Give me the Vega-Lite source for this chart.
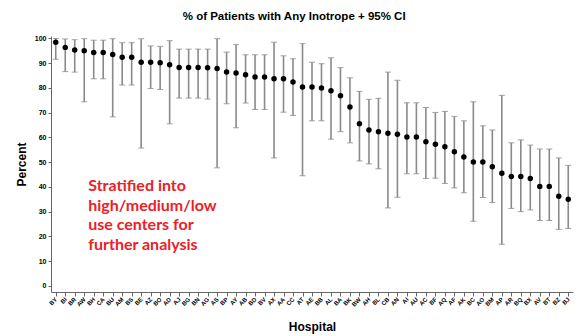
{
  "$schema": "https://vega.github.io/schema/vega-lite/v6.json",
  "width": 522,
  "height": 256,
  "autosize": {"type": "none"},
  "padding": {"left": 51, "top": 36, "right": 9, "bottom": 44},
  "background": "white",
  "title": {
    "text": "% of Patients with Any Inotrope + 95% CI",
    "font": "Liberation Sans",
    "fontSize": 11.5,
    "fontWeight": "bold",
    "color": "#000",
    "anchor": "middle",
    "frame": "bounds",
    "offset": 12
  },
  "config": {
    "view": {"stroke": null},
    "axis": {
      "grid": false,
      "domainColor": "#666",
      "tickColor": "#666",
      "labelFont": "Liberation Sans",
      "labelFontWeight": "bold",
      "labelColor": "#000",
      "labelOverlap": false,
      "titleFont": "Liberation Sans",
      "titleColor": "#000"
    },
    "axisY": {
      "title": "Percent",
      "titleFontSize": 12,
      "titleFontWeight": "bold",
      "titlePadding": 6,
      "tickCount": 11,
      "labelFontSize": 7,
      "tickSize": 3,
      "labelPadding": 2
    }
  },
  "datasets": {
    "main": [
      {"hospital": "BY", "pct": 98.5, "lo": 91.6, "hi": 100},
      {"hospital": "BI", "pct": 96.4, "lo": 86.6, "hi": 99.8},
      {"hospital": "BR", "pct": 95.3, "lo": 86.4, "hi": 99.5},
      {"hospital": "AW", "pct": 95.0, "lo": 74.4, "hi": 99.9},
      {"hospital": "BH", "pct": 94.3, "lo": 83.7, "hi": 99.3},
      {"hospital": "CA", "pct": 94.3, "lo": 83.7, "hi": 99.3},
      {"hospital": "BU", "pct": 93.5, "lo": 68.3, "hi": 99.9},
      {"hospital": "AM", "pct": 92.4, "lo": 81.2, "hi": 98.3},
      {"hospital": "BS", "pct": 92.4, "lo": 81.2, "hi": 98.3},
      {"hospital": "BE", "pct": 90.4, "lo": 55.7, "hi": 99.9},
      {"hospital": "AZ", "pct": 90.4, "lo": 79.8, "hi": 97.0},
      {"hospital": "BO", "pct": 90.2, "lo": 79.4, "hi": 96.8},
      {"hospital": "AD", "pct": 89.4, "lo": 65.5, "hi": 99.1},
      {"hospital": "AJ", "pct": 88.3, "lo": 75.9, "hi": 95.7},
      {"hospital": "BG", "pct": 88.3, "lo": 75.9, "hi": 95.7},
      {"hospital": "BN", "pct": 88.3, "lo": 75.9, "hi": 95.7},
      {"hospital": "AG", "pct": 88.2, "lo": 75.5, "hi": 95.7},
      {"hospital": "AS", "pct": 87.9, "lo": 47.7, "hi": 99.9},
      {"hospital": "BP", "pct": 86.4, "lo": 73.6, "hi": 94.5},
      {"hospital": "AY", "pct": 86.0, "lo": 63.9, "hi": 97.5},
      {"hospital": "AB", "pct": 85.3, "lo": 73.9, "hi": 93.4},
      {"hospital": "BD", "pct": 84.4, "lo": 71.3, "hi": 93.4},
      {"hospital": "BV", "pct": 84.4, "lo": 71.3, "hi": 93.4},
      {"hospital": "AX", "pct": 83.7, "lo": 51.7, "hi": 98.5},
      {"hospital": "AA", "pct": 83.7, "lo": 70.2, "hi": 93.0},
      {"hospital": "CC", "pct": 82.4, "lo": 68.9, "hi": 91.8},
      {"hospital": "AT", "pct": 80.4, "lo": 44.5, "hi": 97.9},
      {"hospital": "AE", "pct": 80.4, "lo": 66.7, "hi": 90.4},
      {"hospital": "BB", "pct": 80.0, "lo": 66.7, "hi": 89.8},
      {"hospital": "AL", "pct": 78.9, "lo": 59.3, "hi": 92.2},
      {"hospital": "BA", "pct": 76.8, "lo": 62.3, "hi": 88.2},
      {"hospital": "BK", "pct": 72.3, "lo": 57.8, "hi": 84.1},
      {"hospital": "BW", "pct": 65.5, "lo": 50.5, "hi": 78.6},
      {"hospital": "AH", "pct": 63.0, "lo": 49.3, "hi": 75.4},
      {"hospital": "BL", "pct": 62.3, "lo": 47.3, "hi": 75.8},
      {"hospital": "CB", "pct": 61.7, "lo": 31.5, "hi": 86.4},
      {"hospital": "AN", "pct": 61.3, "lo": 35.8, "hi": 83.1},
      {"hospital": "AI", "pct": 60.2, "lo": 45.3, "hi": 74.0},
      {"hospital": "AU", "pct": 60.2, "lo": 45.3, "hi": 74.0},
      {"hospital": "AC", "pct": 58.2, "lo": 43.4, "hi": 72.1},
      {"hospital": "BF", "pct": 57.2, "lo": 43.5, "hi": 70.1},
      {"hospital": "AQ", "pct": 56.2, "lo": 41.4, "hi": 70.5},
      {"hospital": "AF", "pct": 54.2, "lo": 39.6, "hi": 68.5},
      {"hospital": "AK", "pct": 52.1, "lo": 37.6, "hi": 66.7},
      {"hospital": "BC", "pct": 50.1, "lo": 26.1, "hi": 74.4},
      {"hospital": "AO", "pct": 50.1, "lo": 35.7, "hi": 64.7},
      {"hospital": "BM", "pct": 48.1, "lo": 33.7, "hi": 63.0},
      {"hospital": "AP", "pct": 45.5, "lo": 16.8, "hi": 77.0},
      {"hospital": "AR", "pct": 44.2, "lo": 31.3, "hi": 57.8},
      {"hospital": "BQ", "pct": 44.2, "lo": 30.0, "hi": 59.0},
      {"hospital": "BX", "pct": 43.4, "lo": 30.7, "hi": 56.9},
      {"hospital": "AV", "pct": 40.2, "lo": 26.4, "hi": 55.3},
      {"hospital": "BT", "pct": 40.2, "lo": 26.4, "hi": 55.3},
      {"hospital": "BZ", "pct": 36.2, "lo": 22.8, "hi": 51.7},
      {"hospital": "BJ", "pct": 35.0, "lo": 23.2, "hi": 48.7}
    ],
    "note": [
      {"hospital": "AW", "v": 43.5, "label": ["Stratified into", "high/medium/low", "use centers for", "further analysis"]}
    ]
  },
  "encoding": {
    "x": {
      "field": "hospital",
      "type": "nominal",
      "sort": null,
      "scale": {"type": "point", "padding": 0.5},
      "axis": {
        "title": "Hospital",
        "titleFontSize": 12,
        "titleFontWeight": "bold",
        "titlePadding": 14,
        "labelAngle": -45,
        "labelFontSize": 6,
        "labelAlign": "right",
        "labelBaseline": "middle",
        "labelPadding": 2,
        "tickSize": 4
      }
    }
  },
  "layer": [
    {
      "data": {"name": "main"},
      "mark": {"type": "errorbar", "ticks": {"size": 6, "color": "#7a7a7a", "strokeWidth": 1.2}, "rule": {"color": "#8a8a8a", "strokeWidth": 1.6}},
      "encoding": {
        "y": {
          "field": "lo",
          "type": "quantitative",
          "title": "Percent",
          "scale": {"domain": [-2.5, 101], "nice": false, "zero": false}
        },
        "y2": {"field": "hi"}
      }
    },
    {
      "data": {"name": "main"},
      "mark": {"type": "point", "filled": true, "color": "#000", "size": 30, "opacity": 1},
      "encoding": {
        "y": {"field": "pct", "type": "quantitative", "title": "Percent"}
      }
    },
    {
      "data": {"name": "note"},
      "mark": {
        "type": "text",
        "align": "left",
        "baseline": "top",
        "dx": 4,
        "font": "Lato",
        "fontWeight": "bold",
        "fontSize": 16,
        "lineHeight": 19.5,
        "color": "#ec2027"
      },
      "encoding": {
        "y": {"field": "v", "type": "quantitative", "title": "Percent"},
        "text": {"field": "label"}
      }
    }
  ]
}
